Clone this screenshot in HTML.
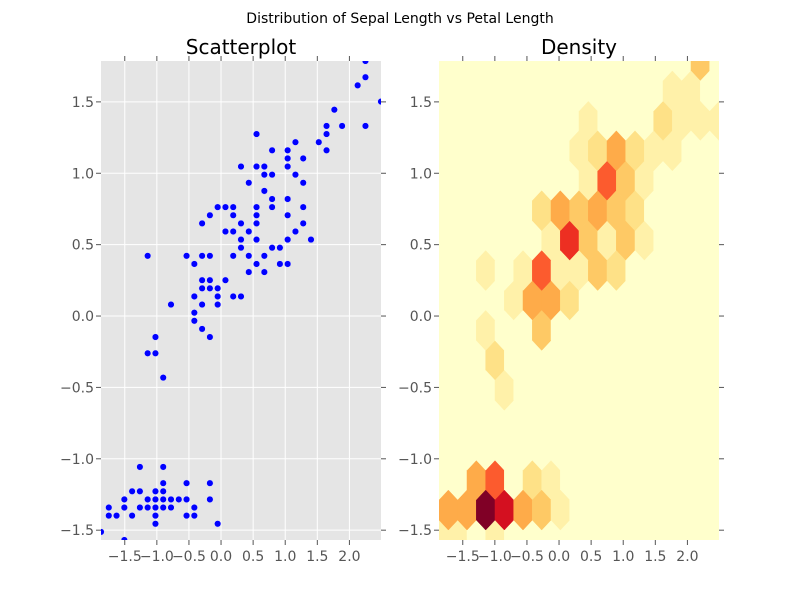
<!DOCTYPE html>
<html><head><meta charset="utf-8"><style>
body{margin:0;background:#fff;font-family:"DejaVu Sans",sans-serif;}
svg text{font-family:"DejaVu Sans",sans-serif;}
</style></head><body>
<svg id="c" width="800" height="600" xmlns="http://www.w3.org/2000/svg">
<rect width="800" height="600" fill="#fff"/>
<text x="400" y="23" text-anchor="middle" font-size="14">Distribution of Sepal Length vs Petal Length</text>
<text x="241" y="54" text-anchor="middle" font-size="20">Scatterplot</text>
<text x="579" y="54" text-anchor="middle" font-size="20">Density</text>
<g id="left"></g>
<g id="right"></g>
</svg>
<script>
const sepalLength=[5.1,4.9,4.7,4.6,5.0,5.4,4.6,5.0,4.4,4.9,5.4,4.8,4.8,4.3,5.8,5.7,5.4,5.1,5.7,5.1,5.4,5.1,4.6,5.1,4.8,5.0,5.0,5.2,5.2,4.7,4.8,5.4,5.2,5.5,4.9,5.0,5.5,4.9,4.4,5.1,5.0,4.5,4.4,5.0,5.1,4.8,5.1,4.6,5.3,5.0,
7.0,6.4,6.9,5.5,6.5,5.7,6.3,4.9,6.6,5.2,5.0,5.9,6.0,6.1,5.6,6.7,5.6,5.8,6.2,5.6,5.9,6.1,6.3,6.1,6.4,6.6,6.8,6.7,6.0,5.7,5.5,5.5,5.8,6.0,5.4,6.0,6.7,6.3,5.6,5.5,5.5,6.1,5.8,5.0,5.6,5.7,5.7,6.2,5.1,5.7,
6.3,5.8,7.1,6.3,6.5,7.6,4.9,7.3,6.7,7.2,6.5,6.4,6.8,5.7,5.8,6.4,6.5,7.7,7.7,6.0,6.9,5.6,7.7,6.3,6.7,7.2,6.2,6.1,6.4,7.2,7.4,7.9,6.4,6.3,6.1,7.7,6.3,6.4,6.0,6.9,6.7,6.9,5.8,6.8,6.7,6.7,6.3,6.5,6.2,5.9];
const petalLength=[1.4,1.4,1.3,1.5,1.4,1.7,1.4,1.5,1.4,1.5,1.5,1.6,1.4,1.1,1.2,1.5,1.3,1.4,1.7,1.5,1.7,1.5,1.0,1.7,1.9,1.6,1.6,1.5,1.4,1.6,1.6,1.5,1.5,1.4,1.5,1.2,1.3,1.5,1.3,1.5,1.3,1.3,1.3,1.6,1.9,1.4,1.6,1.4,1.5,1.4,
4.7,4.5,4.9,4.0,4.6,4.5,4.7,3.3,4.6,3.9,3.5,4.2,4.0,4.7,3.6,4.4,4.5,4.1,4.5,3.9,4.8,4.0,4.9,4.7,4.3,4.4,4.8,5.0,4.5,3.5,3.8,3.7,3.9,5.1,4.5,4.5,4.7,4.4,4.1,4.0,4.4,4.6,4.0,3.3,4.2,4.2,4.2,4.3,3.0,4.1,
6.0,5.1,5.9,5.6,5.8,6.6,4.5,6.3,5.8,6.1,5.1,5.3,5.5,5.0,5.1,5.3,5.5,6.7,6.9,5.0,5.7,4.9,6.7,4.9,5.7,6.0,4.8,4.9,5.6,5.8,6.1,6.4,5.6,5.1,5.6,6.1,5.6,5.5,4.8,5.4,5.6,5.1,5.1,5.9,5.7,5.2,5.0,5.2,5.4,5.1];
const xTicks=[-1.5,-1.0,-0.5,0.0,0.5,1.0,1.5,2.0];
const yTicks=[-1.5,-1.0,-0.5,0.0,0.5,1.0,1.5];
const gridsize=15;
const cmap=['#ffffcc','#ffeda0','#fed976','#feb24c','#fd8d3c','#fc4e2a','#e31a1c','#bd0026','#800026'];

function standardize(a){const m=a.reduce((s,v)=>s+v,0)/a.length;const sd=Math.sqrt(a.reduce((s,v)=>s+(v-m)*(v-m),0)/a.length);return a.map(v=>(v-m)/sd);}
const X=standardize(sepalLength), Y=standardize(petalLength);
const xmin=Math.min(...X), xmax=Math.max(...X), ymin=Math.min(...Y), ymax=Math.max(...Y);
const W=280;
function sx(v,L){return L+(v-xmin)/(xmax-xmin)*W;}
function sy(v){return 540-(v-ymin)/(ymax-ymin)*479;}
const NS='http://www.w3.org/2000/svg';
function mk(tag,attrs,parent){const e=document.createElementNS(NS,tag);for(const k in attrs)e.setAttribute(k,attrs[k]);parent.appendChild(e);return e;}
function fmt(v){return (v<0?'\u2212':'')+Math.abs(v).toFixed(1);}
function lerpColor(t){const p=t*(cmap.length-1);const i=Math.min(Math.floor(p),cmap.length-2);const f=p-i;
 const a=cmap[i],b=cmap[i+1];const c=[1,3,5].map(k=>Math.round(parseInt(a.substr(k,2),16)*(1-f)+parseInt(b.substr(k,2),16)*f));return 'rgb('+c.join(',')+')';}

function axes(g,L,bg,grid){
 const clipId='clip'+L;
 const d=mk('clipPath',{id:clipId},g);mk('rect',{x:L,y:61,width:W,height:479},d);
 const bgR=mk('rect',{x:L,y:61,width:W,height:479,fill:bg},g);
 
 const inner=mk('g',{'clip-path':'url(#'+clipId+')'},g);
 if(grid){xTicks.forEach(t=>mk('line',{x1:sx(t,L),x2:sx(t,L),y1:61,y2:540,stroke:'#fff','stroke-width':1},inner));
  yTicks.forEach(t=>mk('line',{x1:L,x2:L+W,y1:sy(t),y2:sy(t),stroke:'#fff','stroke-width':1},inner));}
 xTicks.forEach(t=>{const x=sx(t,L);
  mk('line',{x1:x,x2:x,y1:540,y2:545,stroke:'#555'},g);mk('line',{x1:x,x2:x,y1:56,y2:61,stroke:'#555'},g);
  const tx=mk('text',{x:x,y:561,'text-anchor':'middle','font-size':14,fill:'#555'},g);tx.textContent=fmt(t);
  });
 yTicks.forEach(t=>{const y=sy(t);
  mk('line',{x1:L-5,x2:L,y1:y,y2:y,stroke:'#555'},g);mk('line',{x1:L+W,x2:L+W+5,y1:y,y2:y,stroke:'#555'},g);
  const tx=mk('text',{x:L-7,y:y+5,'text-anchor':'end','font-size':14,fill:'#555'},g);tx.textContent=fmt(t);
  });
 return inner;
}
const left=document.getElementById('left'), right=document.getElementById('right');
const li=axes(left,101,'#e5e5e5',true);
X.forEach((v,i)=>{const c=mk('circle',{cx:sx(v,101),cy:sy(Y[i]),r:3.3,fill:'#0000ff',stroke:'#e5e5ff','stroke-width':0.5},li);
 });

const ri=axes(right,439,'#ffffcc',false);
const nx=gridsize, ny=Math.floor(nx/Math.sqrt(3));
const pad=1e-9*(xmax-xmin), padY=1e-9*(ymax-ymin);
const hx0=xmin-pad, hx1=xmax+pad, hy0=ymin-padY, hy1=ymax+padY;
const hsx=(hx1-hx0)/nx, hsy=(hy1-hy0)/ny;
const c1={},c2={};
X.forEach((v,i)=>{const x=(v-hx0)/hsx,y=(Y[i]-hy0)/hsy;
 const ix1=Math.round(x),iy1=Math.round(y),ix2=Math.floor(x),iy2=Math.floor(y);
 const d1=(x-ix1)**2+3*(y-iy1)**2,d2=(x-ix2-0.5)**2+3*(y-iy2-0.5)**2;
 if(d1<d2){const k=ix1+','+iy1;c1[k]=(c1[k]||0)+1;}else{const k=ix2+','+iy2;c2[k]=(c2[k]||0)+1;}});
const cells=[];
for(let i=0;i<=nx;i++)for(let j=0;j<=ny;j++)cells.push([hx0+i*hsx,hy0+j*hsy,c1[i+','+j]||0]);
for(let i=0;i<nx;i++)for(let j=0;j<ny;j++)cells.push([hx0+(i+0.5)*hsx,hy0+(j+0.5)*hsy,c2[i+','+j]||0]);
const maxC=Math.max(...cells.map(c=>c[2]));
const poly=[[.5,-.5],[.5,.5],[0,1],[-.5,.5],[-.5,-.5],[0,-1]];
cells.forEach(([cx,cy,n])=>{
 const pts=poly.map(([a,b])=>sx(cx+a*hsx,439).toFixed(2)+','+sy(cy+b*hsy/3).toFixed(2)).join(' ');
 const col=lerpColor(n/maxC);
 const p=mk('polygon',{points:pts,fill:col,stroke:col,'stroke-width':0.5},ri);
 });
</script>
</body></html>
